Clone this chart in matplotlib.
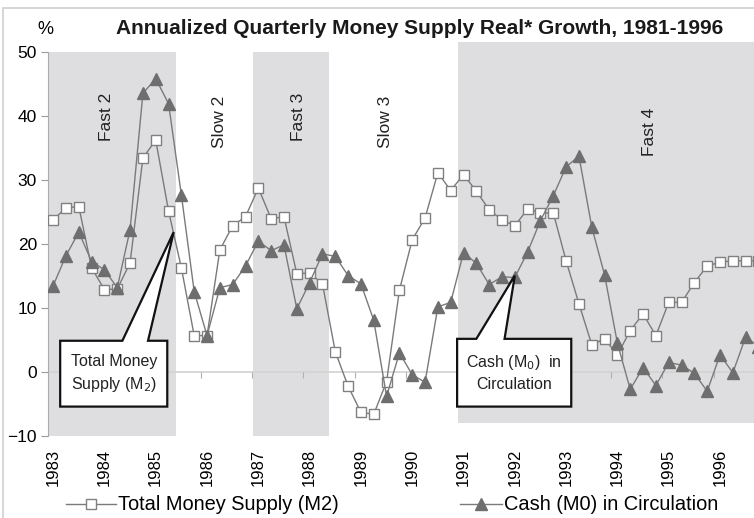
import numpy as np
import matplotlib
matplotlib.use("Agg")
import matplotlib.pyplot as plt
from matplotlib.patches import Polygon, Rectangle
from matplotlib.lines import Line2D

plt.rcParams['font.family'] = ['Liberation Sans', 'DejaVu Sans']

# quarterly data, 1983Q1 onwards
m2 = [23.8, 25.7, 25.9, 16.3, 12.9, 13.0, 17.1, 33.5, 36.3, 25.2,
      16.3, 5.7, 5.7, 19.1, 22.9, 24.3, 28.8, 24.0, 24.3, 15.4,
      15.5, 13.8, 3.2, -2.2, -6.3, -6.6, -1.5, 12.8, 20.7, 24.1,
      31.2, 28.4, 30.9, 28.3, 25.4, 23.8, 22.9, 25.5, 24.9, 24.9,
      17.4, 10.7, 4.3, 5.2, 2.7, 6.5, 9.1, 5.7, 10.9, 10.9,
      14.0, 16.6, 17.2, 17.4, 17.4, 17.4]
m0 = [13.5, 18.2, 21.9, 17.3, 16.0, 13.2, 22.3, 43.6, 45.9, 42.0,
      27.7, 12.6, 5.7, 13.2, 13.7, 16.6, 20.5, 19.0, 19.9, 9.9,
      14.0, 18.5, 18.1, 15.1, 13.8, 8.1, -3.8, 3.0, -0.4, -1.6,
      10.2, 10.9, 18.7, 17.0, 13.7, 14.9, 14.8, 18.8, 23.7, 27.6,
      32.1, 33.8, 22.7, 15.2, 4.5, -2.7, 0.7, -2.1, 1.5, 1.1,
      -0.2, -3.0, 2.7, -0.1, 5.5, 4.0]
years = list(range(1983, 1997))

# shaded phases
band_names = ['Fast 2', 'Slow 2', 'Fast 3', 'Slow 3', 'Fast 4']
band_spans = [(-0.5, 9.6, -10, 50), None, (15.6, 21.5, -10, 50), None, (31.6, 56, -8, 51.6)]
band_label_pos = [(4.2, 39.9), (13.0, 39.1), (19.1, 39.9), (25.9, 39.1), (46.5, 37.6)]

x = np.arange(len(m2))
line_col = '#7a7a7a'

fig = plt.figure(figsize=(7.54, 5.18), dpi=100)
ax = fig.add_axes([48/754, 1 - 436/518, 1 - 48/754, (436 - 39.7)/518])

for span in band_spans:
    if span is None:
        continue
    x0, x1, y0, y1 = span
    ax.fill_between([x0, x1], y0, y1, color='#dedee0', lw=0, zorder=0)

ax.axhline(0, color='#d2d2d2', lw=1.2, zorder=1)
ax.vlines(np.arange(3.5, len(m2), 4), -0.9, 0, color='#b0b0b0', lw=0.8, zorder=1)

ax.plot(x, m2, color=line_col, lw=1, marker='s', ms=6.5, mfc='white',
        mec='#808080', mew=1, zorder=3)
ax.plot(x, m0, color=line_col, lw=1, marker='^', ms=8, mfc='#6e6e6e',
        mec='#6e6e6e', zorder=3)

for name, (bx, by) in zip(band_names, band_label_pos):
    ax.text(bx, by, name, rotation=90, ha='center', va='center',
            fontsize=12.5, color='#222222', zorder=4)

# callouts
def callout(ax, box, base, tip, text):
    bx0, bx1, by0, by1 = box
    pts = [(bx0, by0), (bx0, by1), (base[0], by1), tip, (base[1], by1),
           (bx1, by1), (bx1, by0)]
    ax.add_patch(Polygon(pts, closed=True, fc='white', ec='#111111', lw=1.6, zorder=6))
    ax.text((bx0 + bx1) / 2, (by0 + by1) / 2, text, ha='center', va='center',
            fontsize=11.5, color='#222222', linespacing=1.45, zorder=7)

callout(ax, (0.55, 8.9, -5.4, 4.9), (5.4, 7.4), (9.4, 21.9),
        'Total Money\nSupply (M$_2$)')
callout(ax, (31.5, 40.4, -5.4, 5.2), (33.0, 35.2), (36.0, 15.1),
        'Cash (M$_0$)  in\nCirculation')

ax.set_xlim(-0.4, 54.65)
ax.set_ylim(-10, 52)
ax.set_yticks(range(-10, 51, 10))
ax.set_xticks(np.arange(0, len(m2), 4)[:len(years)])
ax.set_xticklabels([str(y) for y in years], rotation=90, fontsize=12)
ax.tick_params(axis='x', length=0, pad=9)
ax.tick_params(axis='y', labelsize=12.5, length=5, color='#999999', pad=3)
for s in ['top', 'right', 'bottom']:
    ax.spines[s].set_visible(False)
ax.spines['left'].set_color('#aaaaaa')
ax.spines['left'].set_bounds(-10, 50)
ax.patch.set_alpha(0)

fig.text(45/754, 1 - 30/518, '%', fontsize=13, ha='center', va='center')
fig.text(420/754, 1 - 29/518, 'Annualized Quarterly Money Supply Real* Growth, 1981-1996',
         fontsize=15, fontweight='bold', ha='center', va='center', color='#1a1a1a')

# outer frame
fig.patches.append(Rectangle((3/754, -0.1), 1.2, 1 - 8/518 + 0.1,
                             transform=fig.transFigure, fill=False,
                             ec='#cfcfcf', lw=1.2))

h1 = Line2D([], [], color=line_col, lw=1, marker='s', ms=6.5, mfc='white', mec='#808080')
h2 = Line2D([], [], color=line_col, lw=1, marker='^', ms=8, mfc='#6e6e6e', mec='#6e6e6e')
fig.legend(handles=[h1], labels=['Total Money Supply (M2)'], loc='center left',
           bbox_to_anchor=(48/754, 1 - 505/518), frameon=False, fontsize=14.4,
           handlelength=2.5, handletextpad=0.1)
fig.legend(handles=[h2], labels=['Cash (M0) in Circulation'], loc='center left',
           bbox_to_anchor=(442/754, 1 - 505/518), frameon=False, fontsize=14.4,
           handlelength=2.1, handletextpad=0.1)

fig.savefig('out.png', dpi=100)
